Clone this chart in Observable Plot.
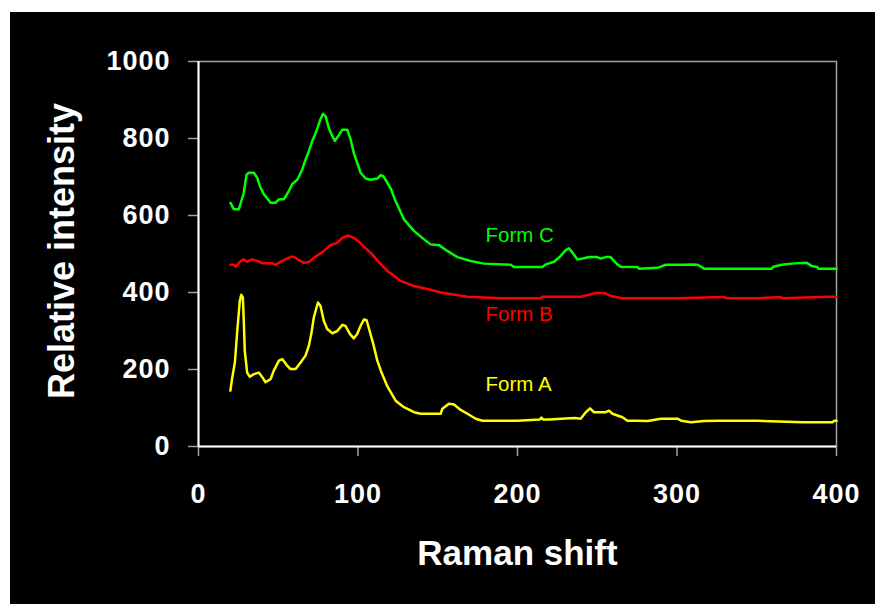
<!DOCTYPE html>
<html>
<head>
<meta charset="utf-8">
<script src="https://cdn.jsdelivr.net/npm/d3@7"></script>
<script src="https://cdn.jsdelivr.net/npm/@observablehq/plot@0.6"></script>
<style>
  html, body { margin: 0; padding: 0; background: #ffffff; }
  #box { position: absolute; left: 10px; top: 12px; width: 865px; height: 592px; background: #000; }
  #box svg g[aria-label$="axis tick"] { stroke: #a0a0a0; stroke-width: 1.5px; }
  #box svg g[aria-label$="tick label"] { font: bold 27px "Liberation Sans", Arial, sans-serif; fill: #fff; letter-spacing: 1px; }
</style>
</head>
<body>
<div id="box"></div>
<script>
const xTicks = [0, 100, 200, 300, 400];
const yTicks = [0, 200, 400, 600, 800, 1000];
const seriesNames = ["Form A", "Form B", "Form C"];
const seriesColors = ["#ffff00", "#ff0000", "#00ff00"];

const formA = [[20,145],[21,175],[22.8,218],[24.3,300],[25.9,378],[26.8,394],[27.8,387],[28.4,326],[29,249],[30.5,192],[32.2,181],[34.7,188],[37.8,192],[40,180],[42,167],[45.2,175],[47.2,197],[50.4,223],[52.5,227],[55.6,210],[57.7,201],[60.9,201],[64,218],[67.1,236],[69.2,262],[70.7,292],[72.3,335],[74,361],[74.9,374],[76.5,365],[78.6,326],[80.7,305],[83.9,294],[87,300],[90.2,316],[92.2,313],[95,292],[97.4,281],[99.5,292],[101.6,313],[103.7,330],[105.4,328],[107.3,300],[109.6,266],[112.1,223],[114.5,195],[118.4,156],[123.6,119],[128.8,102],[135.1,89],[139.3,85],[151.8,85],[152.9,98],[157,111],[160.2,109],[164.4,95],[168.6,85],[173.8,72],[178,67],[200,67],[214,70],[215,75],[216,70],[220,70],[230,73],[236,74],[239.6,72],[242.8,89],[245.5,99],[248,89],[255.3,89],[257.4,93],[259.5,85],[265.8,76],[268.9,67],[274.2,67],[281.5,66],[290,72],[300.5,72],[302.6,67],[308.7,63],[317,66],[326.4,67],[350,67],[378.7,63],[397.5,63],[398.6,67],[400,67]];

const formB = [[20,472],[22.2,472],[23.2,467],[25.3,477],[28,486],[30.5,480],[33.7,486],[36.8,482],[40,476],[46.2,476],[48.3,472],[52.5,482],[57.7,492],[59.8,493],[62.9,484],[66.1,477],[69.2,479],[72.3,490],[75.5,499],[78.6,508],[82.8,523],[87,529],[90.2,542],[93.7,548],[97.4,542],[100.6,532],[103.7,519],[109,499],[113,479],[116.3,465],[118.4,456],[120.5,450],[126.7,430],[135.1,417],[143.5,409],[151.8,400],[168.6,389],[189.5,385],[214.6,385],[215.6,389],[239.6,389],[244.8,394],[249,399],[254.3,399],[258.4,391],[265.8,385],[300,385],[330,388],[331,385],[350,385],[365,388],[366,385],[395,389],[400,389]];

const formC = [[20,633],[22.2,616],[25.3,616],[26.8,637],[28.4,659],[30.1,706],[31.6,711],[34.7,711],[36.8,698],[38.5,676],[41,655],[45.2,633],[48.3,633],[50.4,642],[53.5,642],[56.6,663],[58.8,682],[61.9,693],[65,719],[67.1,745],[69.2,767],[71.3,793],[74,820],[76.1,846],[78,864],[79.7,858],[81.7,827],[83.9,806],[85.5,794],[87.6,806],[90.2,823],[93.3,823],[95.4,797],[97.4,762],[99.5,737],[101.6,711],[104.8,696],[107.9,693],[112.1,696],[114.2,705],[115.9,702],[118.4,685],[120.5,670],[123.6,637],[128.8,590],[135.1,560],[141.4,538],[145.5,525],[150.8,523],[156,508],[162.3,492],[170.6,482],[179,475],[195.7,472],[197.8,466],[215.6,466],[217.7,473],[223,480],[227.1,495],[230.2,510],[232.3,515],[234.5,503],[237.6,486],[241.7,489],[244.8,492],[250,492],[252.1,488],[255.3,492],[258.4,492],[260.5,482],[262.6,473],[264.7,467],[275.2,466],[276.2,462],[287.7,464],[293,472],[304.5,472],[308.7,473],[312.9,472],[317,462],[359.4,462],[360.4,467],[365.6,472],[371.9,475],[381.3,477],[384.4,469],[388,466],[388.6,462],[400,462]];

const labelX = [180, 180, 180];
const labelY = [161, 342, 547];

const seriesData = [formA, formB, formC];
const rows = [];
seriesData.forEach((s, i) => s.forEach(([x, y]) => rows.push({series: seriesNames[i], x, y})));
const labels = seriesNames.map((n, i) => ({series: n, x: labelX[i], y: labelY[i]}));

const chart = Plot.plot({
  width: 865,
  height: 592,
  marginLeft: 188,
  marginRight: 39,
  marginTop: 49,
  marginBottom: 158,
  style: {background: "#000", color: "#fff", fontFamily: "'Liberation Sans', Arial, sans-serif"},
  x: {domain: [0, 400]},
  y: {domain: [0, 1000]},
  color: {domain: seriesNames, range: seriesColors},
  marks: [
    Plot.frame({stroke: "#a0a0a0", strokeWidth: 1.5}),
    Plot.axisX({ticks: xTicks, tickSize: 10, tickPadding: 27, tickFormat: d3.format("d"), label: null}),
    Plot.axisY({ticks: yTicks, tickSize: 10, tickPadding: 18, tickFormat: d3.format("d"), label: null}),
    Plot.ruleX([0], {stroke: "#fff", strokeWidth: 2}),
    Plot.ruleY([0], {stroke: "#fff", strokeWidth: 2}),
    Plot.line(rows, {x: "x", y: "y", z: "series", stroke: "series", strokeWidth: 2.5}),
    Plot.text(labels, {x: "x", y: "y", text: "series", fill: "series", textAnchor: "start", fontSize: 20.5, fontFamily: "'Liberation Sans', Arial, sans-serif"}),
    Plot.text(["Raman shift"], {frameAnchor: "bottom", dy: 118, text: d => d, fill: "#fff", fontSize: 35, fontWeight: "bold", letterSpacing: 0.5}),
    Plot.text(["Relative intensity"], {frameAnchor: "left", dx: -136, dy: -3, rotate: -90, textAnchor: "middle", lineAnchor: "middle", text: d => d, fill: "#fff", fontSize: 36, fontWeight: "bold", letterSpacing: 1})
  ]
});
document.getElementById("box").appendChild(chart);
</script>
</body>
</html>
